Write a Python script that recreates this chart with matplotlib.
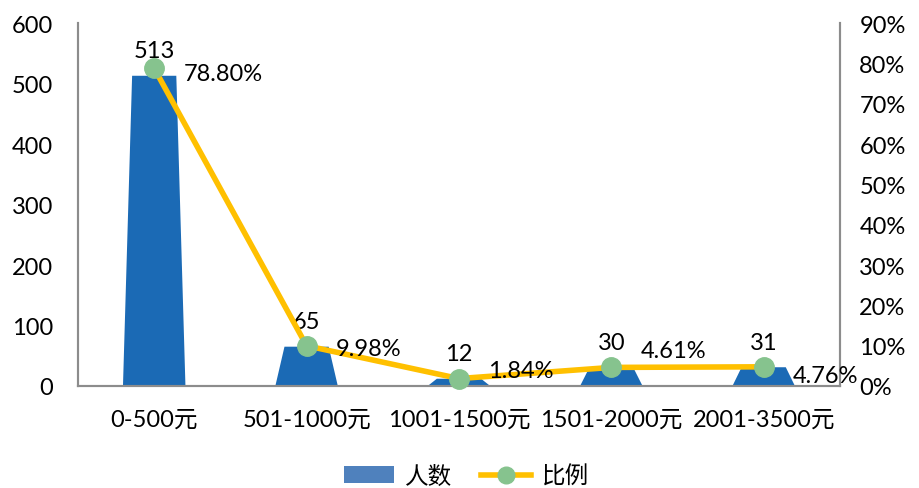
import numpy as np
import matplotlib.pyplot as plt
from matplotlib.patches import Polygon, Patch
from matplotlib.lines import Line2D
from matplotlib.ticker import FuncFormatter

plt.rcParams['font.family'] = ['Lato', 'Noto Sans CJK SC', 'DejaVu Sans']

categories = ["0-500元", "501-1000元", "1001-1500元", "1501-2000元", "2001-3500元"]
counts = [513, 65, 12, 30, 31]
ratios = [0.788, 0.0998, 0.0184, 0.0461, 0.0476]
ratio_labels = ["78.80%", "9.98%", "1.84%", "4.61%", "4.76%"]

# label vertical offsets (points) for percentage labels, as placed in the original
pct_dy = [-4, -2, 6, 12, -6]

bar_color = "#1B6AB5"
line_color = "#FFC000"
marker_color = "#86C38E"
fs = 17

fig = plt.figure(figsize=(9.19, 4.89), dpi=100)
ax = fig.add_axes([0.0849, 0.2086, 0.829, 0.742])
ax2 = ax.twinx()

x = np.arange(len(categories))
hw_bottom, hw_top = 0.205, 0.145
for xi, h in zip(x, counts):
    poly = Polygon([(xi - hw_bottom, 0), (xi - hw_top, h), (xi + hw_top, h), (xi + hw_bottom, 0)],
                   closed=True, facecolor=bar_color, edgecolor="none")
    ax.add_patch(poly)
    ax.annotate(str(h), (xi, h), xytext=(0, 18), textcoords="offset points",
                ha="center", va="center", fontsize=fs)

ax.set_xlim(-0.5, len(categories) - 0.5)
ax.set_ylim(0, 600)
ax.set_yticks(range(0, 601, 100))
ax.set_xticks(x)
ax.set_xticklabels(categories)

ax2.plot(x, ratios, color=line_color, linewidth=4, marker="o", markersize=14,
         markerfacecolor=marker_color, markeredgecolor=marker_color, zorder=3, clip_on=False)
ax2.set_ylim(0, 0.9)
ax2.set_yticks(np.arange(0, 0.91, 0.1))
ax2.yaxis.set_major_formatter(FuncFormatter(lambda v, p: f"{v*100:.0f}%"))
for xi, r, lab, dy in zip(x, ratios, ratio_labels, pct_dy):
    ax2.annotate(lab, (xi, r), xytext=(21, dy), textcoords="offset points",
                 ha="left", va="center", fontsize=fs, zorder=4)

for a in (ax, ax2):
    a.spines["top"].set_visible(False)
    for s in ("left", "right", "bottom"):
        a.spines[s].set_color("#8C8C8C")
        a.spines[s].set_linewidth(1.5)
    a.tick_params(length=0, labelsize=fs)

ax.tick_params(axis="y", pad=18)
ax.tick_params(axis="x", pad=16)
ax2.tick_params(axis="y", pad=14)
ax2.set_zorder(ax.get_zorder() + 1)
ax2.patch.set_visible(False)

handles = [Patch(facecolor="#4F81BD", edgecolor="none"),
           Line2D([0], [0], color=line_color, linewidth=4, marker="o", markersize=12,
                  markerfacecolor=marker_color, markeredgecolor=marker_color)]
fig.legend(handles, ["人数", "比例"], loc="center", bbox_to_anchor=(0.508, 0.025),
           ncol=2, frameon=False, fontsize=fs, handlelength=2.1, columnspacing=1.2,
           handletextpad=0.5)

fig.savefig("out.png", dpi=100)
